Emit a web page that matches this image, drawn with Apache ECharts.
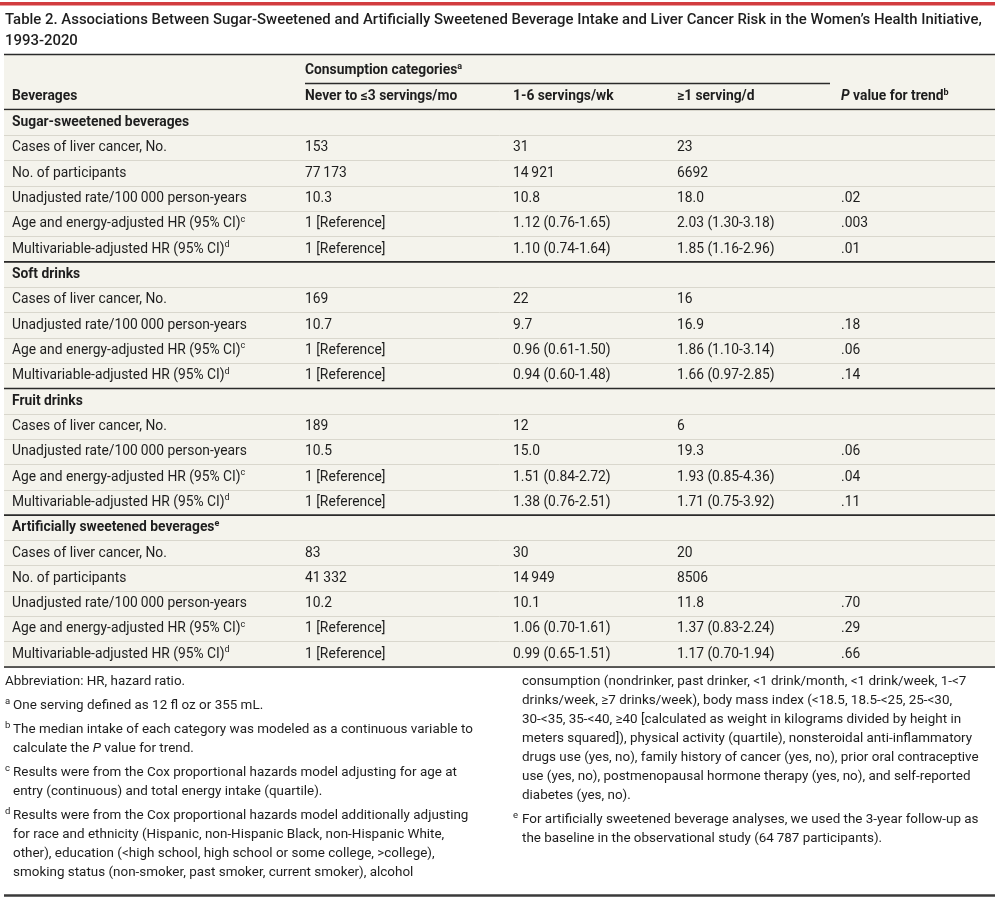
<!DOCTYPE html>
<html><head><meta charset="utf-8">
<script src="https://cdn.jsdelivr.net/npm/echarts@6/dist/echarts.min.js"></script>
<style>html,body{margin:0;padding:0;background:#fff}#main{width:1000px;height:900px}</style>
</head><body><div id="main"></div>
<script>
// ---------- DATA ----------
const titleLines = [
  'Table 2. Associations Between Sugar-Sweetened and Artificially Sweetened Beverage Intake and Liver Cancer Risk in the Women\u2019s Health Initiative,',
  '1993-2020'
];
const groupHead = 'Consumption categories';
const groupHeadNote = 'a';
const columnHeads = ['Beverages', 'Never to \u22643 servings/mo', '1-6 servings/wk', '\u22651 serving/d', 'P value for trend'];
const rowLabels = [
  'Sugar-sweetened beverages', 'Cases of liver cancer, No.', 'No. of participants', 'Unadjusted rate/100\u2009000 person-years', 'Age and energy-adjusted HR (95% CI)', 'Multivariable-adjusted HR (95% CI)',
  'Soft drinks', 'Cases of liver cancer, No.', 'Unadjusted rate/100\u2009000 person-years', 'Age and energy-adjusted HR (95% CI)', 'Multivariable-adjusted HR (95% CI)',
  'Fruit drinks', 'Cases of liver cancer, No.', 'Unadjusted rate/100\u2009000 person-years', 'Age and energy-adjusted HR (95% CI)', 'Multivariable-adjusted HR (95% CI)',
  'Artificially sweetened beverages', 'Cases of liver cancer, No.', 'No. of participants', 'Unadjusted rate/100\u2009000 person-years', 'Age and energy-adjusted HR (95% CI)', 'Multivariable-adjusted HR (95% CI)'
];
const labelNotes = ['', '', '', '', 'c', 'd', '', '', '', 'c', 'd', '', '', '', 'c', 'd', 'e', '', '', '', 'c', 'd'];
const sectionRows = [0, 6, 11, 16];
const neverCol = ['', '153', '77\u2009173', '10.3', '1 [Reference]', '1 [Reference]',
  '', '169', '10.7', '1 [Reference]', '1 [Reference]',
  '', '189', '10.5', '1 [Reference]', '1 [Reference]',
  '', '83', '41\u2009332', '10.2', '1 [Reference]', '1 [Reference]'];
const weekCol = ['', '31', '14\u2009921', '10.8', '1.12 (0.76-1.65)', '1.10 (0.74-1.64)',
  '', '22', '9.7', '0.96 (0.61-1.50)', '0.94 (0.60-1.48)',
  '', '12', '15.0', '1.51 (0.84-2.72)', '1.38 (0.76-2.51)',
  '', '30', '14\u2009949', '10.1', '1.06 (0.70-1.61)', '0.99 (0.65-1.51)'];
const dayCol = ['', '23', '6692', '18.0', '2.03 (1.30-3.18)', '1.85 (1.16-2.96)',
  '', '16', '16.9', '1.86 (1.10-3.14)', '1.66 (0.97-2.85)',
  '', '6', '19.3', '1.93 (0.85-4.36)', '1.71 (0.75-3.92)',
  '', '20', '8506', '11.8', '1.37 (0.83-2.24)', '1.17 (0.70-1.94)'];
const pTrend = ['', '', '', '.02', '.003', '.01',
  '', '', '.18', '.06', '.14',
  '', '', '.06', '.04', '.11',
  '', '', '', '.70', '.29', '.66'];
const notesLeft = [
  {mark: '', lines: ['Abbreviation: HR, hazard ratio.']},
  {mark: 'a', lines: ['One serving defined as 12 fl oz or 355 mL.']},
  {mark: 'b', lines: ['The median intake of each category was modeled as a continuous variable to', 'calculate the {i|P} value for trend.']},
  {mark: 'c', lines: ['Results were from the Cox proportional hazards model adjusting for age at', 'entry (continuous) and total energy intake (quartile).']},
  {mark: 'd', lines: ['Results were from the Cox proportional hazards model additionally adjusting', 'for race and ethnicity (Hispanic, non-Hispanic Black, non-Hispanic White,', 'other), education (<high school, high school or some college, >college),', 'smoking status (non-smoker, past smoker, current smoker), alcohol']}
];
const notesRight = [
  {mark: '', lines: ['consumption (nondrinker, past drinker, <1 drink/month, <1 drink/week, 1-<7', 'drinks/week, \u22657 drinks/week), body mass index (<18.5, 18.5-<25, 25-<30,', '30-<35, 35-<40, \u226540 [calculated as weight in kilograms divided by height in', 'meters squared]), physical activity (quartile), nonsteroidal anti-inflammatory', 'drugs use (yes, no), family history of cancer (yes, no), prior oral contraceptive', 'use (yes, no), postmenopausal hormone therapy (yes, no), and self-reported', 'diabetes (yes, no).']},
  {mark: 'e', lines: ['For artificially sweetened beverage analyses, we used the 3-year follow-up as', 'the baseline in the observational study (64\u2009787 participants).']}
];

// ---------- LAYOUT / STYLE ----------
const FAM = 'Roboto';
const INK = '#1e1e1e';
const RULE = '#2a2a2a';
const colX = [12, 305, 513, 677, 841];
const X0 = 4, X1 = 995;
const mctx = document.createElement('canvas').getContext('2d');
function fit(str, target, weight, lo, hi) {
  mctx.font = (weight || 'normal') + ' 100px ' + FAM;
  const s = 100 * target / mctx.measureText(str).width;
  return Math.max(lo, Math.min(hi, s));
}
const TW = 500;
const BODY = fit('Unadjusted rate/100\u2009000 person-years', 235, 'normal', 12, 15);
const NOTE = fit('The median intake of each category was modeled as a continuous variable to', 460, 'normal', 12, 15);
const TITLE = fit(titleLines[0], 977, TW, 13, 17);
const HW = 'bold';

function supRich(size, weight) {
  return {
    s: {fontSize: size, fontFamily: FAM, fontWeight: weight, fill: INK, verticalAlign: 'top'},
    i: {fontSize: NOTE, fontFamily: FAM, fontStyle: 'italic', fill: INK},
    bi: {fontSize: BODY, fontFamily: FAM, fontStyle: 'italic', fontWeight: 'bold', fill: INK}
  };
}
function txt(x, y, text, size, weight, extra) {
  return Object.assign({
    type: 'text', x: x, y: y, silent: true,
    style: {text: text, fill: INK, fontFamily: FAM, fontSize: size, fontWeight: weight || 'normal',
      align: 'left', verticalAlign: 'middle', lineHeight: 18, rich: supRich(Math.round(size * 0.64), weight || 'normal')}
  }, extra || {});
}
function hline(x1, x2, y, w, c) {
  return {type: 'line', silent: true, shape: {x1: x1, y1: y, x2: x2, y2: y}, style: {stroke: c || RULE, lineWidth: w}};
}

const graphics = [];
graphics.push({type: 'rect', z: -10, silent: true, shape: {x: X0, y: 55, width: X1 - X0, height: 612}, style: {fill: '#f4f3ec'}});
graphics.push({type: 'rect', silent: true, shape: {x: 0, y: 2, width: X1, height: 3.5}, style: {fill: '#d23c3f'}});
graphics.push(txt(5, 20, titleLines[0], TITLE, TW));
graphics.push(txt(5, 41, titleLines[1], TITLE, TW));
graphics.push(hline(X0, X1, 54.5, 1.6));
graphics.push(txt(colX[1], 71, groupHead + '{s|' + groupHeadNote + '}', BODY, HW));
graphics.push(hline(colX[1], 830, 83.5, 1.4));
columnHeads.forEach(function (h, k) {
  let t = h;
  if (k === 4) t = '{bi|P}' + h.slice(1) + '{s|b}';
  graphics.push(txt(colX[k], 97, t, BODY, HW));
});
graphics.push(hline(X0, X1, 109.5, 1.6));

function placeNotes(notes, markX, textX, firstX, y0) {
  let y = y0;
  notes.forEach(function (n, ni) {
    if (ni > 0) y += 5;
    if (n.mark) graphics.push(txt(markX, y - 4, n.mark, 9.5, 'normal'));
    n.lines.forEach(function (l, li) {
      const x = (!n.mark && ni === 0 && firstX != null) ? firstX : textX;
      graphics.push(txt(x, y, l, NOTE, 'normal'));
      y += 19;
    });
  });
}
placeNotes(notesLeft, 5, 13, 5, 682);
placeNotes(notesRight, 513, 522, 522, 682);
graphics.push(hline(X0, X1, 895.5, 2.4, '#3a3a3a'));

const sectionEnds = sectionRows.slice(1).map(function (r) { return r - 1; }).concat([rowLabels.length - 1]);
const columns = [rowLabels, neverCol, weekCol, dayCol, pTrend];

const chart = echarts.init(document.getElementById('main'), null, {renderer: 'canvas'});
chart.setOption({
  animation: false,
  backgroundColor: '#ffffff',
  grid: {left: X0, right: 1000 - X1, top: 110, height: 557, containLabel: false},
  xAxis: {type: 'value', min: X0, max: X1, show: false},
  yAxis: {
    type: 'category', inverse: true, data: rowLabels.map(function (_, i) { return String(i); }),
    axisLine: {show: false}, axisTick: {show: false, interval: 0}, axisLabel: {show: false, interval: 0},
    splitLine: {show: true, interval: 0, lineStyle: {color: '#d9d7cd', width: 1}}
  },
  graphic: graphics,
  series: [{
    type: 'custom',
    coordinateSystem: 'cartesian2d',
    encode: {x: 0, y: 1},
    data: rowLabels.map(function (_, i) { return [X0, i]; }),
    renderItem: function (params, api) {
      const i = api.value(1);
      const band = api.size([0, 1])[1];
      const yMid = api.coord([X0, i])[1];
      const isSec = sectionRows.indexOf(i) >= 0;
      const kids = [];
      columns.forEach(function (col, k) {
        const v = col[i];
        if (!v) return;
        let t = v;
        if (k === 0 && labelNotes[i]) t = v + '{s|' + labelNotes[i] + '}';
        const w = (k === 0 && isSec) ? HW : 'normal';
        kids.push({
          type: 'text', x: api.coord([colX[k], i])[0], y: yMid,
          style: {text: t, fill: INK, fontFamily: FAM, fontSize: BODY, fontWeight: w,
            align: 'left', verticalAlign: 'middle', lineHeight: 18, rich: supRich(9, w)}
        });
      });
      if (sectionEnds.indexOf(i) >= 0) {
        const yb = yMid + band / 2;
        kids.push({type: 'line', shape: {x1: api.coord([X0, i])[0], y1: yb, x2: api.coord([X1, i])[0], y2: yb},
          style: {stroke: RULE, lineWidth: 1.6}});
      }
      return {type: 'group', children: kids};
    }
  }]
});
</script></body></html>
